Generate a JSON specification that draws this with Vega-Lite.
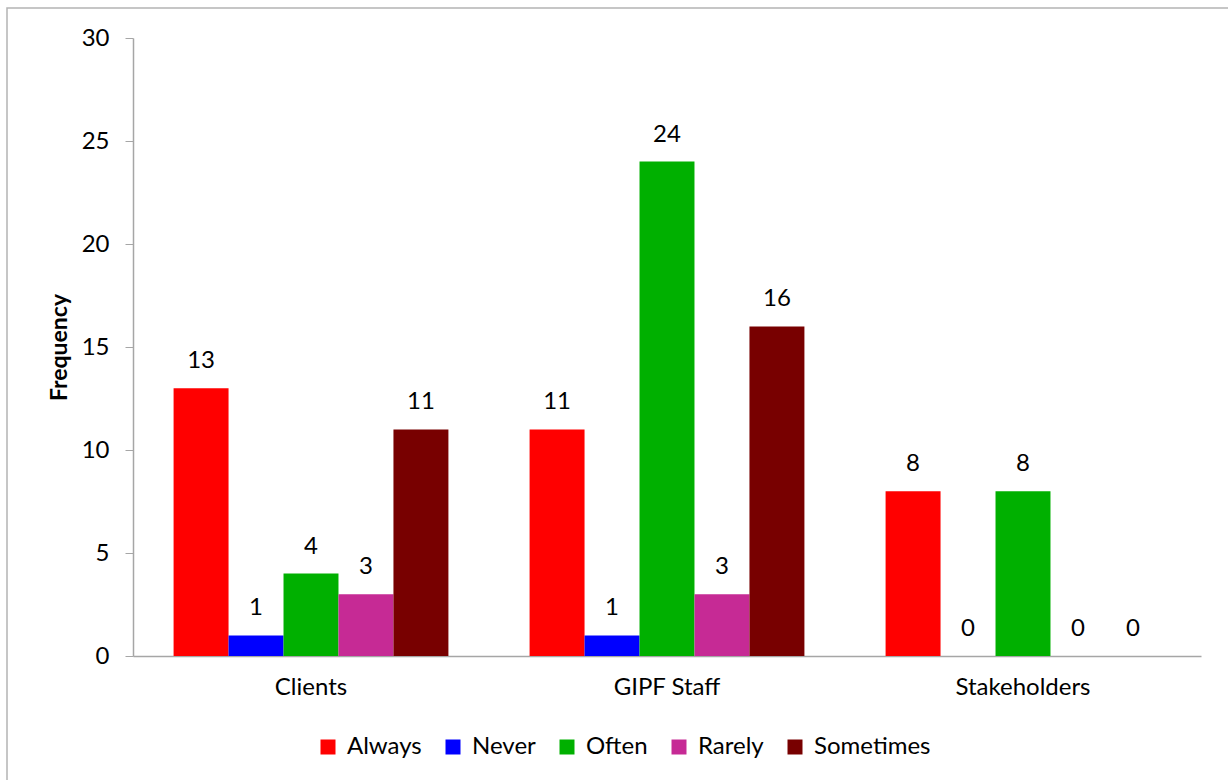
{
  "$schema": "https://vega.github.io/schema/vega-lite/v6.json",
  "autosize": {"type": "none"},
  "padding": {"left": 7, "top": 8, "right": 0, "bottom": 0},
  "width": 1223,
  "height": 774,
  "background": "white",
  "config": {
    "view": {"stroke": "#B4B4B4", "strokeWidth": 1.5},
    "font": "Lato",
    "axis": {"labelFont": "Lato", "labelColor": "#000000", "domainColor": "#A6A6A6", "tickColor": "#A6A6A6", "grid": false}
  },
  "data": {
    "values": [
      {"group": "Clients", "response": "Always", "value": 13},
      {"group": "Clients", "response": "Never", "value": 1},
      {"group": "Clients", "response": "Often", "value": 4},
      {"group": "Clients", "response": "Rarely", "value": 3},
      {"group": "Clients", "response": "Sometimes", "value": 11},
      {"group": "GIPF Staff", "response": "Always", "value": 11},
      {"group": "GIPF Staff", "response": "Never", "value": 1},
      {"group": "GIPF Staff", "response": "Often", "value": 24},
      {"group": "GIPF Staff", "response": "Rarely", "value": 3},
      {"group": "GIPF Staff", "response": "Sometimes", "value": 16},
      {"group": "Stakeholders", "response": "Always", "value": 8},
      {"group": "Stakeholders", "response": "Never", "value": 0},
      {"group": "Stakeholders", "response": "Often", "value": 8},
      {"group": "Stakeholders", "response": "Rarely", "value": 0},
      {"group": "Stakeholders", "response": "Sometimes", "value": 0}
    ]
  },
  "encoding": {
    "x": {
      "field": "group", "type": "nominal", "sort": ["Clients", "GIPF Staff", "Stakeholders"],
      "scale": {"range": [126, 1194], "paddingInner": 0.228, "paddingOuter": 0.114},
      "axis": {"title": null, "labelAngle": 0, "labelFontSize": 24, "ticks": false, "tickSize": 0, "labelPadding": 19, "offset": -126, "domainWidth": 1.5}
    },
    "xOffset": {
      "field": "response", "type": "nominal", "sort": ["Always", "Never", "Often", "Rarely", "Sometimes"],
      "scale": {"paddingInner": 0, "paddingOuter": 0}
    },
    "y": {
      "field": "value", "type": "quantitative",
      "scale": {"domain": [0, 30], "range": [648, 30], "nice": false},
      "axis": {
        "title": "Frequency", "titleFontSize": 23, "titleFontWeight": "bold", "titleFont": "Lato",
        "titleX": -74, "titleY": 339, "titleAngle": -90, "titleAlign": "center", "titleBaseline": "middle",
        "values": [0, 5, 10, 15, 20, 25, 30], "tickSize": 8, "labelPadding": 16, "labelFontSize": 24,
        "offset": -126, "domainWidth": 1.5
      }
    }
  },
  "layer": [
    {
      "mark": {"type": "bar"},
      "encoding": {
        "color": {
          "field": "response", "type": "nominal",
          "sort": ["Always", "Never", "Often", "Rarely", "Sometimes"],
          "scale": {"domain": ["Always", "Never", "Often", "Rarely", "Sometimes"], "range": ["#FF0000", "#0000FF", "#00B000", "#C62A95", "#780000"]},
          "legend": {
            "title": null, "orient": "none", "direction": "horizontal", "columns": 5,
            "legendX": 309, "legendY": 727, "symbolType": "square", "symbolSize": 225,
            "symbolStrokeWidth": 0, "labelFontSize": 24, "labelFont": "Lato", "labelColor": "#000000",
            "labelOffset": 7, "columnPadding": 19
          }
        }
      }
    },
    {
      "mark": {"type": "text", "baseline": "middle", "align": "center", "dy": -27, "fontSize": 24, "color": "#000000"},
      "encoding": {"text": {"field": "value", "type": "quantitative"}}
    }
  ]
}
